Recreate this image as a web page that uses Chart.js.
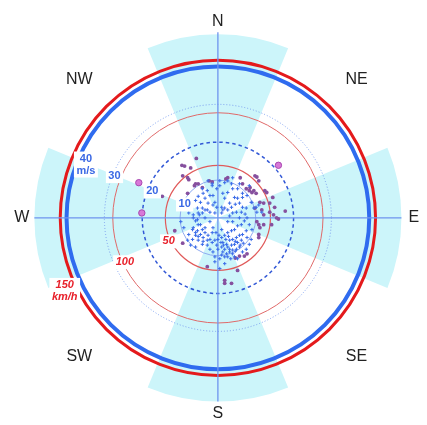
<!DOCTYPE html>
<html><head><meta charset="utf-8">
<script src="https://cdn.jsdelivr.net/npm/chart.js@4"></script>
<style>html,body{margin:0;padding:0;background:#fff}#wrap{width:427px;height:425px;position:relative}</style>
</head><body><div id="wrap"><canvas id="c"></canvas></div>
<script>
// ---- data ----
const directions = ['N','NE','E','SE','S','SW','W','NW'];
const speedRingsMs = [10, 20, 30, 40];          // m/s
const speedRingsKmh = [50, 100, 150];           // km/h
const speedTickLabels = ['10', '20', '30', '40\nm/s'];
const kmhTickLabels = ['50', '100', '150\nkm/h'];
const sectorCenters = [0, 90, 180, 270];        // degrees, clockwise from N
const sectorHalfWidth = 22.5;
const sectorRadius = 48.5;                      // m/s
// wind samples: east / north components (m/s)
const blueE = [-2.6,-1.5,-2.8,-3.9,-5.2,-5.9,-4.6,-3.4,-2.6,-1.3,-0.8,-0.3,1.0,1.3,1.8,2.6,3.1,3.6,1.8,1.3,2.6,3.9,4.4,5.2,5.7,6.5,7.5,6.2,4.9,3.9,1.0,-0.8,-2.1,-3.4,-4.1,-5.4,-5.2,-6.5,-7.7,-8.5,8.8,9.5,10.3,10.8,7.7,6.5,5.2,-1.3,-0.3,0.5,1.8,3.6,
 -5.9,-5.2,-6.5,-5.4,-4.1,-3.4,-4.6,-5.9,-3.9,-2.6,-1.5,-2.8,-1.5,-0.8,0,1.0,1.8,2.6,3.6,4.4,5.2,6.2,7.0,1.3,2.3,3.1,3.9,4.9,5.7,6.5,7.5,1.0,1.8,2.6,3.6,4.4,5.2,6.2,0,-0.3,1.3,2.3,3.1,3.9,4.9,5.7,1.0,1.8,2.6,0.5,-0.8,-1.3,-2.1,-2.8,-4.1,-5.2,-6.7,-7.7,-8.0,-7.2,-5.9,6.5,7.5,8.3,8.8,7.7,4.4,5.2,-0.8,1.8,
 -6.5,-5.4,-4.6,-6.7,-5.9,-5.2,-3.9,-4.1,-2.8,0.5,-1.5,2.6,3.9,5.7,8.3,6.5,9.0,10.1,11.6,0.5,-8.5,-7.2,-9.8,-9.0,8.3,9.0,7.7,5.7,2.6,-2.1,-3.4,3.1,-1.3,1.0,3.9,
 3.1,3.9,4.6,2.1,2.8,1.5,0.8,0.3,-0.5,4.6,5.9,6.7,3.4,-2.1,-3.4,-4.9,-2.1,-4.1,4.6,7.2];
const blueN = [9.8,9.0,7.2,6.5,5.7,4.6,4.1,5.2,3.9,3.4,4.1,2.8,2.8,2.1,2.6,2.1,3.9,2.8,5.2,6.5,6.7,7.7,5.4,5.2,3.9,2.8,2.6,1.5,1.5,1.3,1.3,1.3,1.5,2.1,2.6,2.6,1.3,0.8,1.3,2.8,4.1,2.6,1.5,3.4,5.9,6.5,7.7,5.9,7.7,8.5,9.3,9.0,
 -0.8,-1.8,-2.6,-3.4,-3.1,-3.9,-4.4,-4.6,-5.2,-4.6,-3.9,-5.9,-6.5,-5.9,-5.7,-5.2,-4.6,-3.9,-3.4,-3.1,-2.1,-1.8,-0.8,-6.5,-7.0,-5.9,-5.7,-5.2,-4.6,-4.4,-3.4,-7.7,-8.3,-7.7,-7.2,-7.0,-6.5,-5.9,-8.3,-7.2,-9.0,-9.5,-9.0,-8.5,-8.3,-7.7,-9.8,-10.3,-10.3,-10.8,-10.3,-9.0,-8.3,-7.2,-7.0,-5.9,-5.7,-4.4,-5.9,-7.2,-7.7,-9.0,-8.3,-7.0,-5.7,-5.2,-10.3,-10.8,-11.6,-12.1,
 0,-0.5,-1.8,-3.1,-3.9,-4.9,-6.2,1.3,2.1,9.8,8.5,9.8,10.6,9.0,8.5,5.4,4.1,2.8,1.5,-13.4,4.6,3.4,-1.0,-2.6,-1.8,-3.1,0,0,-1.0,-1.0,0,0.5,-2.6,-3.1,-1.0,
 -8.3,-9.5,-8.8,-5.7,-4.9,-7.2,-6.5,-4.6,-3.9,-6.2,-7.2,-6.7,-10.8,-5.7,-2.6,0.8,5.9,7.7,3.6,1.0];
const purpleE = [-5.7,-9.5,-8.8,-7.2,-9.3,-8.0,-7.7,-5.9,-6.2,-5.2,-8.0,-14.7,-4.1,-2.3,-1.5,2.6,2.1,5.9,6.5,9.8,10.3,10.8,7.5,8.3,9.0,9.5,10.1,8.5,12.4,12.9,14.5,11.1,12.1,13.7,15.0,17.8,11.6,13.7,9.8,10.3,10.8,12.1,14.2,14.7,12.1,16.0,10.8,10.8,7.7,7.0,5.7,4.6,5.2,1.8,1.8,3.6,-11.4,-9.3,-2.8,11.1,15.5];
const purpleN = [15.7,13.9,13.7,13.2,11.1,10.6,10.1,9.0,8.5,9.0,6.5,5.7,8.0,9.8,9.5,10.6,10.3,10.6,9.0,11.1,10.8,9.8,7.7,7.2,6.7,7.2,6.5,8.0,7.2,6.7,5.4,4.1,3.9,3.9,2.8,1.8,2.1,1.5,2.6,-1.0,-1.8,-1.8,-1.8,0.8,0.8,-0.3,-4.4,-5.2,-9.5,-10.1,-10.1,-10.6,-13.9,-16.5,-17.3,-17.3,-3.4,-6.7,-12.9,-2.6,0];
const gustE = [-20.9, 16.0, -20.1];
const gustN = [9.3, 13.9, 1.3];

const KMH = 3.6;
const toPts = (E, N) => E.map((e, i) => ({x: e, y: N[i]}));
const rad = d => d * Math.PI / 180;

const polarPlugin = {
  id: 'polar',
  beforeDatasetsDraw(chart) {
    const ctx = chart.ctx, xs = chart.scales.x, ys = chart.scales.y;
    const cx = xs.getPixelForValue(0), cy = ys.getPixelForValue(0);
    const R = v => xs.getPixelForValue(v) - cx;
    ctx.save();
    ctx.fillStyle = 'rgb(204,245,250)';
    sectorCenters.forEach(a => {
      ctx.beginPath();
      ctx.moveTo(cx, cy);
      ctx.arc(cx, cy, R(sectorRadius), rad(a - sectorHalfWidth - 90), rad(a + sectorHalfWidth - 90));
      ctx.closePath();
      ctx.fill();
    });
    const ring = (v, color, w, dash) => {
      ctx.beginPath();
      ctx.setLineDash(dash || []);
      ctx.strokeStyle = color; ctx.lineWidth = w;
      ctx.arc(cx, cy, R(v), 0, Math.PI * 2);
      ctx.stroke();
    };
    ring(speedRingsMs[0], '#8fabf0', 1);
    ring(speedRingsKmh[0] / KMH, '#e05a5a', 1.2);
    ring(speedRingsMs[1], '#3258d6', 1.5, [3.5, 3]);
    ring(speedRingsKmh[1] / KMH, '#e06a6a', 1);
    ring(speedRingsMs[2], '#7c9ff0', 1, [1, 2]);
    ring(speedRingsMs[3], '#2f6bef', 4);
    ring(speedRingsKmh[2] / KMH, '#e41a1c', 3);
    ctx.setLineDash([]);
    // axes
    ctx.strokeStyle = '#6f94ee'; ctx.lineWidth = 1.3;
    const ar = R(sectorRadius);
    ctx.beginPath();
    ctx.moveTo(cx, cy - ar - 2); ctx.lineTo(cx, cy + ar);
    ctx.moveTo(cx - ar, cy); ctx.lineTo(cx + ar, cy);
    ctx.stroke();
    // compass labels
    ctx.fillStyle = '#222';
    ctx.font = '16px "Liberation Sans", Arial, sans-serif';
    ctx.textAlign = 'center'; ctx.textBaseline = 'middle';
    const lr = R(51.8);
    directions.forEach((d, i) => {
      const a = rad(i * 45);
      ctx.fillText(d, cx + lr * Math.sin(a), cy - lr * Math.cos(a));
    });
    ctx.restore();
  },
  afterDatasetsDraw(chart) {
    const ctx = chart.ctx, xs = chart.scales.x, ys = chart.scales.y;
    const cx = xs.getPixelForValue(0), cy = ys.getPixelForValue(0);
    const R = v => xs.getPixelForValue(v) - cx;
    ctx.save();
    ctx.textAlign = 'center'; ctx.textBaseline = 'middle';
    const label = (text, r, az, color, font) => {
      const lines = text.split('\n');
      ctx.font = font;
      const w = Math.max(...lines.map(l => ctx.measureText(l).width)) + 5;
      const h = lines.length * 12 + 2;
      const x = cx + r * Math.sin(rad(az)), y = cy - r * Math.cos(rad(az));
      ctx.fillStyle = '#fff';
      ctx.fillRect(x - w / 2, y - h / 2, w, h);
      ctx.fillStyle = color;
      lines.forEach((l, i) => ctx.fillText(l, x, y - (lines.length - 1) * 6 + i * 12));
    };
    const bf = 'bold 11px "Liberation Sans", Arial, sans-serif';
    const rf = 'italic bold 11px "Liberation Sans", Arial, sans-serif';
    const msOff = [-2, -5, -2, -9];
    speedRingsMs.forEach((v, i) => label(speedTickLabels[i], R(v) + msOff[i], 292, '#3a68e4', bf));
    const kmOff = [2, -2, 12];
    speedRingsKmh.forEach((v, i) => label(kmhTickLabels[i], R(v / KMH) + kmOff[i], 244.5, '#e8202a', rf));
    ctx.restore();
  }
};

new Chart(document.getElementById('c'), {
  type: 'scatter',
  data: {
    datasets: [
      {data: toPts(blueE, blueN), pointStyle: 'cross', pointRadius: 1.7, pointBorderColor: '#3b6ce8', pointBackgroundColor: '#3b6ce8', pointBorderWidth: 1},
      {data: toPts(purpleE, purpleN), pointRadius: 1.9, pointBackgroundColor: '#86509e', pointBorderWidth: 0},
      {data: toPts(gustE, gustN), pointRadius: 3.2, pointBackgroundColor: '#d878d8', pointBorderColor: '#a848b0', pointBorderWidth: 1}
    ]
  },
  options: {
    responsive: true, maintainAspectRatio: false, animation: false,
    layout: {padding: 0},
    plugins: {legend: {display: false}, tooltip: {enabled: false}},
    scales: {
      x: {type: 'linear', display: false, min: -56.26, max: 53.94},
      y: {type: 'linear', display: false, min: -53.42, max: 56.26}
    }
  },
  plugins: [polarPlugin]
});
</script>
</body></html>
